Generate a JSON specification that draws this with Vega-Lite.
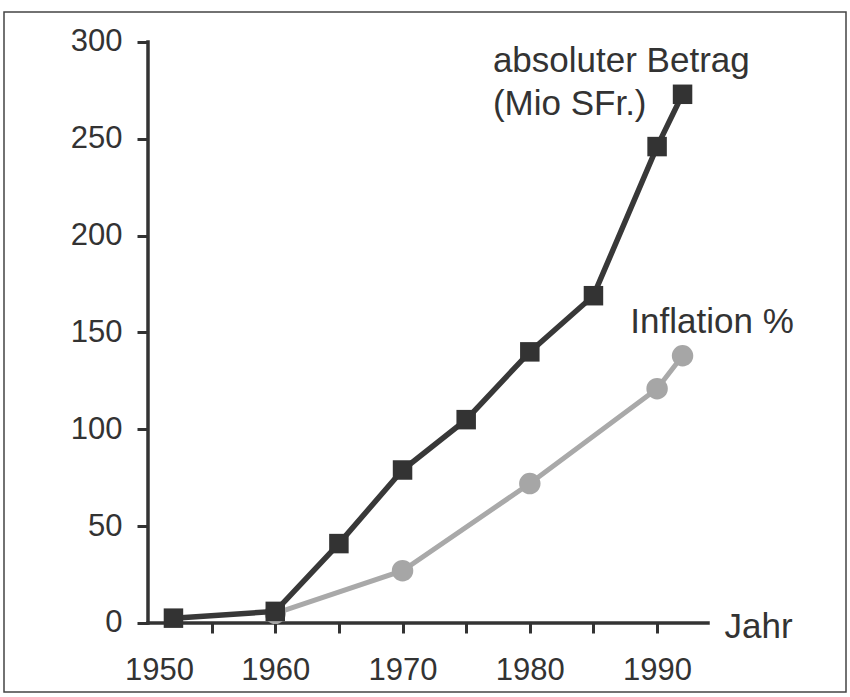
{
  "$schema": "https://vega.github.io/schema/vega-lite/v6.json",
  "width": 842,
  "height": 680,
  "autosize": {"type": "none"},
  "padding": {"left": 4, "top": 12, "right": 4, "bottom": 5},
  "background": "white",
  "config": {
    "view": {"stroke": "#444444", "strokeWidth": 1.5},
    "font": "Liberation Sans"
  },
  "datasets": {
    "reihen": [
      {"jahr": 1952, "wert": 2.5, "reihe": "absoluter Betrag"},
      {"jahr": 1960, "wert": 6, "reihe": "absoluter Betrag"},
      {"jahr": 1965, "wert": 41, "reihe": "absoluter Betrag"},
      {"jahr": 1970, "wert": 79, "reihe": "absoluter Betrag"},
      {"jahr": 1975, "wert": 105, "reihe": "absoluter Betrag"},
      {"jahr": 1980, "wert": 140, "reihe": "absoluter Betrag"},
      {"jahr": 1985, "wert": 169, "reihe": "absoluter Betrag"},
      {"jahr": 1990, "wert": 246, "reihe": "absoluter Betrag"},
      {"jahr": 1992, "wert": 273, "reihe": "absoluter Betrag"},
      {"jahr": 1960, "wert": 5, "reihe": "Inflation"},
      {"jahr": 1970, "wert": 27, "reihe": "Inflation"},
      {"jahr": 1980, "wert": 72, "reihe": "Inflation"},
      {"jahr": 1990, "wert": 121, "reihe": "Inflation"},
      {"jahr": 1992, "wert": 138, "reihe": "Inflation"}
    ],
    "achsen": [
      {"jahr": 1950, "jahr2": 1950, "wert": 0, "wert2": 300},
      {"jahr": 1950, "jahr2": 1994, "wert": 0, "wert2": 0}
    ],
    "texte": [
      {"jahr": 1977.1, "wert": 284.5, "text": "absoluter Betrag\n(Mio SFr.)"},
      {"jahr": 1987.9, "wert": 149.7, "text": "Inflation %"},
      {"jahr": 1995.3, "wert": -7.8, "text": "Jahr"}
    ]
  },
  "encoding": {
    "x": {
      "field": "jahr",
      "type": "quantitative",
      "scale": {"domain": [1938.686, 2004.843], "nice": false, "zero": false},
      "axis": {
        "orient": "bottom",
        "offset": -69,
        "domain": false,
        "grid": false,
        "title": null,
        "values": [1950, 1955, 1960, 1965, 1970, 1975, 1980, 1985, 1990],
        "format": "d",
        "labelExpr": "datum.value % 10 == 0 ? datum.label : ''",
        "labelOverlap": false,
        "labelFlush": false,
        "labelBound": false,
        "labelFontSize": 31,
        "labelColor": "#333333",
        "labelPadding": 22,
        "labelOffset": {"condition": {"test": "datum.value == 1950", "value": 11}, "value": 0},
        "tickSize": 10,
        "tickWidth": 3,
        "tickColor": {"condition": {"test": "datum.value == 1950", "value": "transparent"}, "value": "#333333"}
      }
    },
    "y": {
      "field": "wert",
      "type": "quantitative",
      "scale": {"domain": [-35.63, 315.49], "nice": false, "zero": false},
      "axis": {
        "orient": "left",
        "offset": -144,
        "domain": false,
        "grid": false,
        "title": null,
        "values": [0, 50, 100, 150, 200, 250, 300],
        "labelOverlap": false,
        "labelFlush": false,
        "labelBound": false,
        "labelFontSize": 31,
        "labelColor": "#333333",
        "labelPadding": 15,
        "tickSize": 11,
        "tickWidth": 3,
        "tickColor": "#333333"
      }
    }
  },
  "layer": [
    {
      "data": {"name": "achsen"},
      "mark": {"type": "rule", "color": "#333333", "strokeWidth": 3.5, "strokeCap": "square"},
      "encoding": {
        "x2": {"field": "jahr2"},
        "y2": {"field": "wert2"}
      }
    },
    {
      "data": {"name": "reihen"},
      "transform": [{"filter": "datum.reihe == 'Inflation'"}],
      "mark": {"type": "line", "color": "#a9a9a9", "strokeWidth": 5}
    },
    {
      "data": {"name": "reihen"},
      "transform": [{"filter": "datum.reihe == 'Inflation'"}],
      "mark": {"type": "point", "shape": "circle", "filled": true, "opacity": 1, "color": "#a6a6a6", "size": 460}
    },
    {
      "data": {"name": "reihen"},
      "transform": [{"filter": "datum.reihe == 'absoluter Betrag'"}],
      "mark": {"type": "line", "color": "#383838", "strokeWidth": 5.5}
    },
    {
      "data": {"name": "reihen"},
      "transform": [{"filter": "datum.reihe == 'absoluter Betrag'"}],
      "mark": {"type": "point", "shape": "square", "filled": true, "opacity": 1, "color": "#333333", "size": 380}
    },
    {
      "data": {"name": "texte"},
      "mark": {"type": "text", "align": "left", "baseline": "alphabetic", "fontSize": 35, "color": "#333333", "lineBreak": "\n", "lineHeight": 43},
      "encoding": {"text": {"field": "text", "type": "nominal"}}
    }
  ]
}
